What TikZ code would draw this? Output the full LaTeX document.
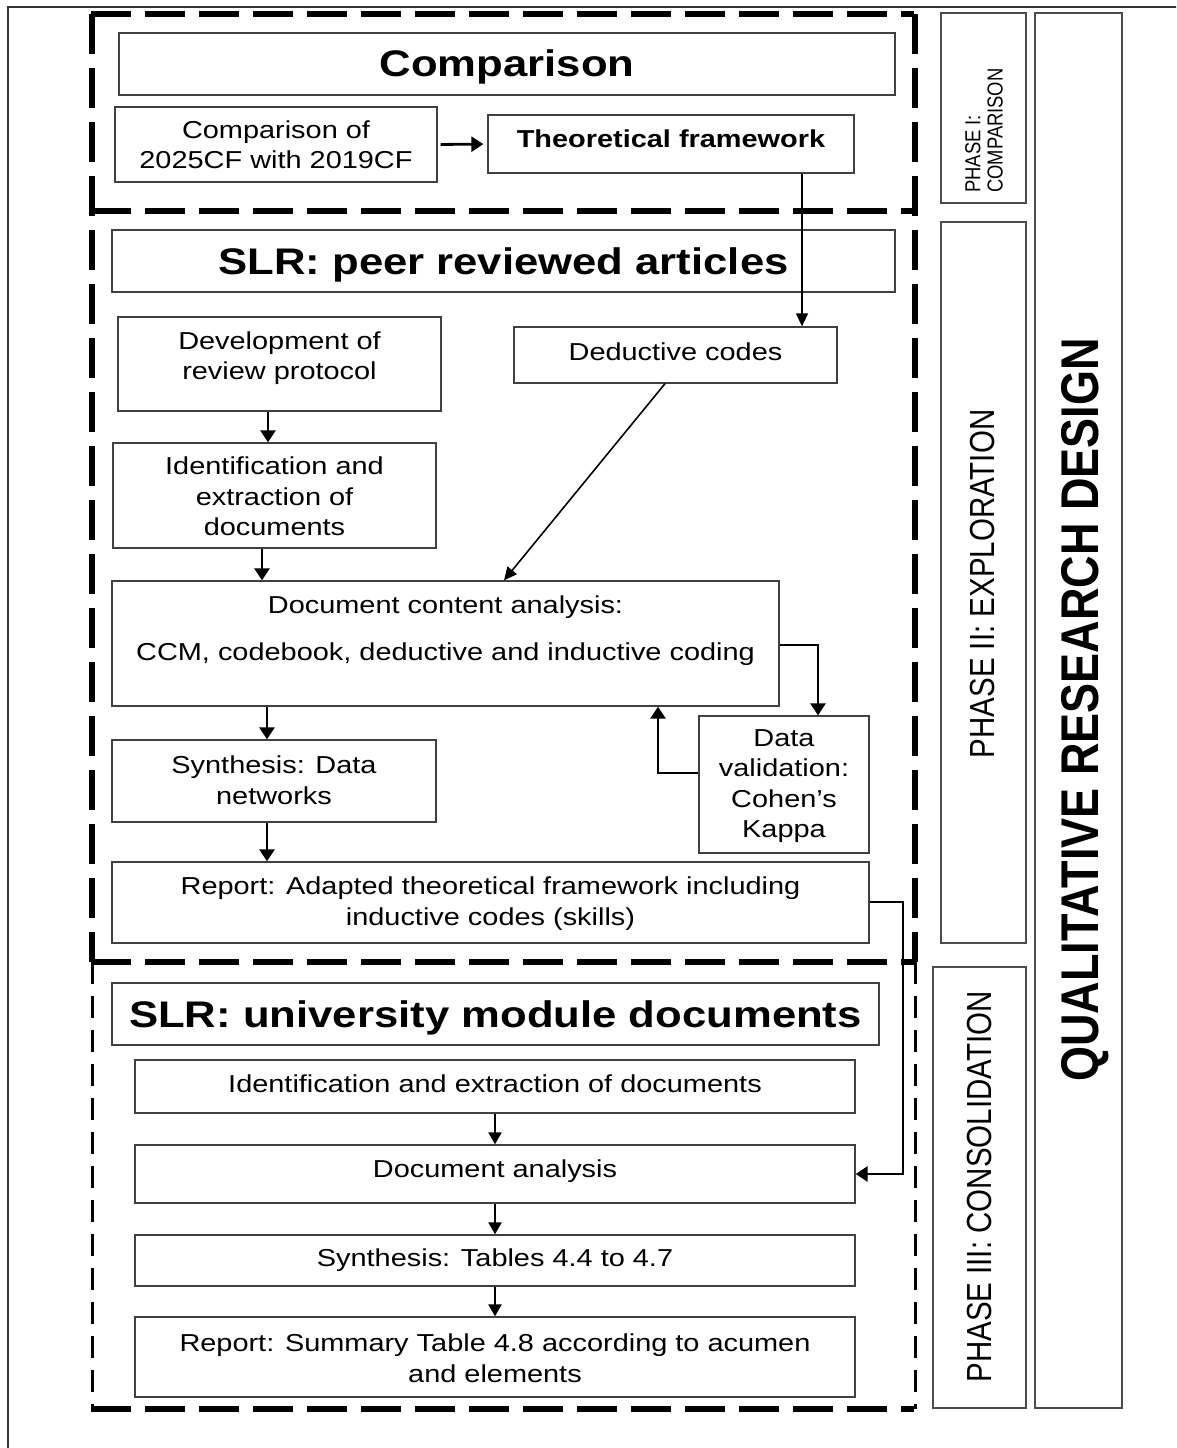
\documentclass[tikz,border=0pt]{standalone}
\usepackage{fontspec}
\setmainfont{Liberation Sans}
\usetikzlibrary{arrows.meta,fit}

\tikzset{
  box/.style={draw=black!75, line width=1.3pt, inner sep=0pt},
  sidebox/.style={draw=black!70, line width=1.5pt, inner sep=0pt},
  txt/.style={inner sep=0pt, align=center, xscale=1.18, font=\fontsize{24.5}{30.5}\selectfont},
  txtb/.style={txt, font=\fontsize{24.5}{30.5}\selectfont\bfseries},
  ttl/.style={inner sep=0pt, align=center, xscale=1.18, font=\fontsize{37}{44}\selectfont\bfseries},
  vlab/.style={inner sep=0pt, rotate=90, yscale=1.18, font=\fontsize{29.5}{34}\selectfont},
  arr/.style={line width=2.8pt, -{Triangle[length=12pt, width=15pt]}},
  mid arr/.style={line width=2.2pt, -{Triangle[length=12pt, width=13pt]}},
  thin arr/.style={line width=1.6pt, -{Triangle[length=13pt, width=12pt]}},
  heavy dash/.style={line width=5.5pt, dash pattern=on 40pt off 14pt},
  light dash/.style={line width=3pt, dash pattern=on 22pt off 12pt},
}

\begin{document}
\begin{tikzpicture}[x=1pt, y=-1pt]
\useasboundingbox (0,0) rectangle (1176,1448);
\clip (0,0) rectangle (1176,1448);
\fill[white] (0,0) rectangle (1176,1448);

% page frame
\draw[line width=2pt, black!80] (8,7) rectangle (1200,1470);

% ---------- Phase I: comparison ----------
\node[box, fit={(119,33) (895,95)}] (h1) {};
\node[ttl] (h1t) at (507,67) {Comparison};
\node[box, fit={(115,107) (437,182)}] (cmp) {};
\node[txt] (cmpt) at (cmp.center) {Comparison of\\2025CF with 2019CF};
\node[box, fit={(488,115) (854,173)}] (tf) {};
\node[txtb] (tft) at (671,139) {Theoretical framework};

% ---------- Phase II: exploration ----------
\node[box, fit={(112,230) (895,292)}] (h2) {};
\node[ttl] (h2t) at (503.5,265) {SLR: peer reviewed articles};
\node[box, fit={(118,317) (441,411)}] (dev) {};
\node[txt] (devt) at (279.5,358) {Development of\\review protocol};
\node[box, fit={(514,327) (837,383)}] (dc) {};
\node[txt] (dct) at (675.5,352) {Deductive codes};
\node[box, fit={(113,443) (436,548)}] (idn) {};
\node[txt] (idnt) at (274.5,496.5) {Identification and\\extraction of\\documents};
\node[box, fit={(112,581) (779,706)}] (dca) {};
\node[txt] (dcat1) at (445.5,607) {Document content analysis:};
\node[txt] (dcat2) at (445.5,654) {CCM, codebook, deductive and inductive coding};
\node[box, fit={(699,716) (869,853)}] (dv) {};
\node[txt] (dvt) at (784,786) {Data\\validation:\\Cohen’s\\Kappa};
\node[box, fit={(112,740) (436,822)}] (syn) {};
\node[txt] (synt) at (274,780) {Synthesis: Data\\networks};
\node[box, fit={(112,862) (869,943)}] (rep) {};
\node[txt] (rept) at (490.5,903.5) {Report: Adapted theoretical framework including\\inductive codes (skills)};

% ---------- Phase III: consolidation ----------
\node[box, fit={(112,983) (879,1045)}] (h3) {};
\node[ttl] (h3t) at (495.5,1018) {SLR: university module documents};
\node[box, fit={(135,1060) (855,1113)}] (uid) {};
\node[txt] (uidt) at (495,1084) {Identification and extraction of documents};
\node[box, fit={(135,1145) (855,1203)}] (da) {};
\node[txt] (dat) at (495,1171) {Document analysis};
\node[box, fit={(135,1235) (855,1286)}] (st) {};
\node[txt] (stt) at (495,1260) {Synthesis: Tables 4.4 to 4.7};
\node[box, fit={(135,1317) (855,1397)}] (rs) {};
\node[txt] (rst) at (495,1358) {Report: Summary Table 4.8 according to acumen\\and elements};

% ---------- side labels ----------
\node[sidebox, fit={(941,13) (1026,203)}] (p1) {};
\node[vlab, font=\fontsize{18.4}{19}\selectfont, align=left, anchor=west] (p1t) at (984,193) {PHASE I:\\COMPARISON};
\node[sidebox, fit={(941,222) (1026,943)}] (p2) {};
\node[vlab] (p2t) at (983,584) {PHASE II: EXPLORATION};
\node[sidebox, fit={(933,967) (1026,1408)}] (p3) {};
\node[vlab] (p3t) at (980,1187) {PHASE III: CONSOLIDATION};
\node[sidebox, fit={(1035,13) (1122,1408)}] (qrd) {};
\node[vlab, font=\fontsize{45}{50}\selectfont\bfseries] (qrdt) at (1085,710) {QUALITATIVE RESEARCH DESIGN};

% ---------- phase frames ----------
\draw[heavy dash] (91,14) -- (914,14);
\draw[heavy dash] (91,211) -- (914,211);
\draw[heavy dash] (91,962) -- (914,962);
\draw[heavy dash] (91,1409) -- (914,1409);
\draw[heavy dash] (92,14) -- (92,962);
\draw[heavy dash] (915,14) -- (915,962);
\draw[light dash] (92,962) -- (92,1409);
\draw[light dash] (915,962) -- (915,1409);

% ---------- connectors ----------
\draw[arr, shorten <=3pt, shorten >=4pt] (cmp.east) -- (tf.west);
\coordinate (xa) at (802,0);
\draw[thin arr] (xa |- tf.south) -- (xa |- dc.north);
\draw[thin arr] ([xshift=-10.5pt]dc.south) -- ([xshift=58.5pt]dca.north);
\coordinate (c1) at (268,0);
\draw[arr] (c1 |- dev.south) -- (c1 |- idn.north);
\coordinate (c2) at (262,0);
\draw[arr] (c2 |- idn.south) -- (c2 |- dca.north);
\coordinate (c3) at (267,0);
\draw[arr] (c3 |- dca.south) -- (c3 |- syn.north);
\draw[arr] (c3 |- syn.south) -- (c3 |- rep.north);
\coordinate (c4) at (818,645);
\draw[arr] (dca.east |- c4) -| (c4 |- dv.north);
\coordinate (c5) at (658,773);
\draw[arr] (dv.west |- c5) -| (c5 |- dca.south);
\coordinate (c6) at (903,902);
\draw[arr] (rep.east |- c6) -| (c6 |- da.east) -- (da.east);
\coordinate (c7) at (495,0);
\draw[mid arr] (c7 |- uid.south) -- (c7 |- da.north);
\draw[mid arr] (c7 |- da.south) -- (c7 |- st.north);
\draw[mid arr] (c7 |- st.south) -- (c7 |- rs.north);
\end{tikzpicture}
\end{document}
